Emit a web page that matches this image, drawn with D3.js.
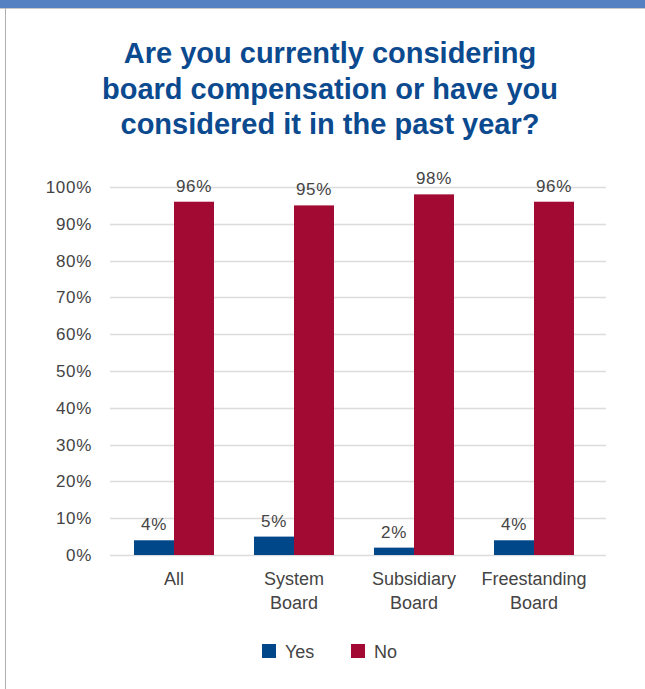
<!DOCTYPE html>
<html>
<head>
<meta charset="utf-8">
<script src="https://cdn.jsdelivr.net/npm/d3@7"></script>
<style>
  html, body { margin: 0; padding: 0; background: #fff; }
  svg { display: block; }
</style>
</head>
<body>
<svg id="chart" width="645" height="689"></svg>
<script>
const categories = [["All"], ["System", "Board"], ["Subsidiary", "Board"], ["Freestanding", "Board"]];
const seriesNames = ["Yes", "No"];
const yesValues = [4, 5, 2, 4];
const noValues = [96, 95, 98, 96];
const yTicks = [0, 10, 20, 30, 40, 50, 60, 70, 80, 90, 100];
const titleLines = ["Are you currently considering", "board compensation or have you", "considered it in the past year?"];

const colors = { Yes: "#00478a", No: "#a30a33" };
const font = "'Liberation Sans', Arial, Helvetica, sans-serif";
const textColor = "#444";

const svg = d3.select("#chart");

// frame: blue header strip and thin grey borders
svg.append("rect").attr("x", 0).attr("y", 0).attr("width", 645).attr("height", 8).attr("fill", "#5580c2");
svg.append("line").attr("x1", 0).attr("x2", 645).attr("y1", 8.5).attr("y2", 8.5).attr("stroke", "#c8c8c8");
svg.append("line").attr("x1", 5.5).attr("x2", 5.5).attr("y1", 8).attr("y2", 689).attr("stroke", "#b0b0b0");

// title
const title = svg.append("text")
  .attr("text-anchor", "middle")
  .attr("font-family", font)
  .attr("font-weight", "bold")
  .attr("font-size", 29)
  .attr("fill", "#0b4a8f");
titleLines.forEach((t, i) => {
  title.append("tspan").attr("x", 330).attr("y", 63 + i * 35.5).text(t);
});

// scales
const plot = { left: 110, right: 606, top: 187, bottom: 555 };
const x0 = d3.scaleBand().domain(d3.range(categories.length)).range([114, 594]).paddingInner(0).paddingOuter(0);
const x1 = d3.scaleBand().domain(seriesNames).range([20, 100]);
const y = d3.scaleLinear().domain([0, 100]).range([plot.bottom, plot.top]);

// gridlines
svg.append("g").selectAll("line").data(yTicks).join("line")
  .attr("x1", plot.left).attr("x2", plot.right)
  .attr("y1", d => Math.round(y(d)) + 0.5).attr("y2", d => Math.round(y(d)) + 0.5)
  .attr("stroke", "#dcdcdc").attr("stroke-width", 1.5);

// y axis labels
const yAxis = svg.append("g").attr("transform", `translate(${plot.left},0)`)
  .call(d3.axisLeft(y).tickValues(yTicks).tickFormat(d => d + "%").tickSize(0).tickPadding(18));
yAxis.select(".domain").remove();
yAxis.selectAll("text").attr("font-family", font).attr("font-size", 17)
  .attr("letter-spacing", 0.7).attr("fill", textColor);

// bars
const data = categories.map((c, i) => ({ i, Yes: yesValues[i], No: noValues[i] }));
const groups = svg.append("g").selectAll("g").data(data).join("g")
  .attr("transform", d => `translate(${x0(d.i)},0)`);
groups.selectAll("rect").data(d => seriesNames.map(s => ({ s, v: d[s] }))).join("rect")
  .attr("x", d => x1(d.s)).attr("width", x1.bandwidth())
  .attr("y", d => y(d.v)).attr("height", d => y(0) - y(d.v))
  .attr("fill", d => colors[d.s]);
groups.selectAll("text.val").data(d => seriesNames.map(s => ({ s, v: d[s] }))).join("text")
  .attr("class", "val")
  .attr("x", d => x1(d.s) + x1.bandwidth() / 2)
  .attr("y", d => y(d.v) - 10)
  .attr("text-anchor", "middle")
  .attr("font-family", font).attr("font-size", 17).attr("letter-spacing", 0.7).attr("fill", textColor)
  .text(d => d.v + "%");

// category labels
const catG = svg.append("g").selectAll("text").data(categories).join("text")
  .attr("text-anchor", "middle")
  .attr("font-family", font).attr("font-size", 18).attr("fill", textColor);
catG.each(function(lines, i) {
  const t = d3.select(this);
  lines.forEach((l, j) => {
    t.append("tspan").attr("x", x0(i) + x0.bandwidth() / 2).attr("y", 585 + j * 24).text(l);
  });
});

// legend
const legendPos = [262, 351];
const legend = svg.append("g").selectAll("g").data(seriesNames).join("g")
  .attr("transform", (d, i) => `translate(${legendPos[i]},644)`);
legend.append("rect").attr("width", 14).attr("height", 14).attr("fill", d => colors[d]);
legend.append("text").attr("x", 23).attr("y", 14)
  .attr("font-family", font).attr("font-size", 18).attr("fill", textColor)
  .text(d => d);
</script>
</body>
</html>
